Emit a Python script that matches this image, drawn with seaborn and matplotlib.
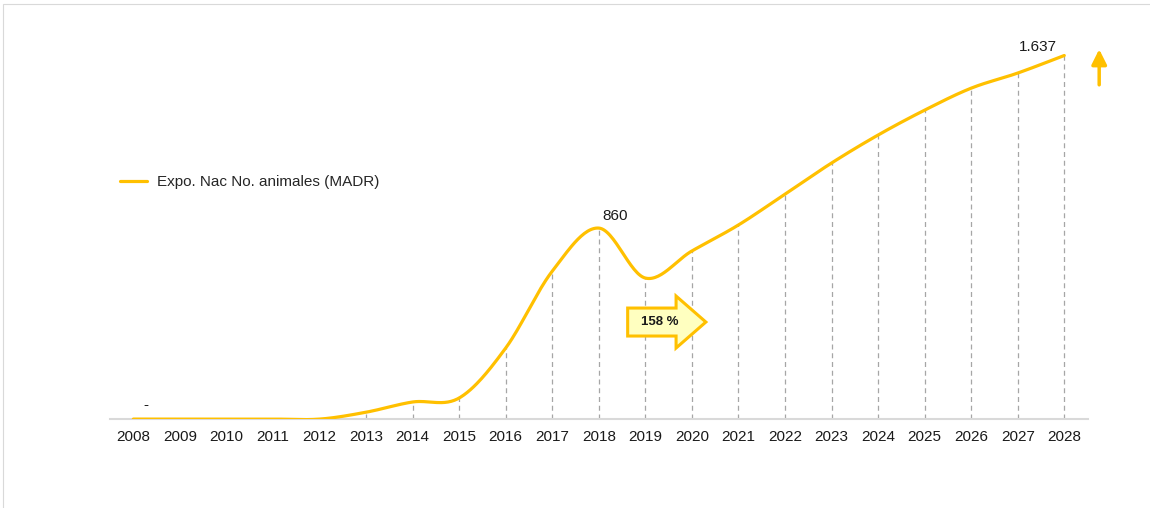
import numpy as np
import matplotlib
matplotlib.use("Agg")
import matplotlib.pyplot as plt
from matplotlib.patches import FancyArrow, Rectangle
import seaborn as sns

# Data
years = list(range(2008, 2029))
values = [0, 0, 0, 0, 0, 31, 77, 95, 320, 666, 860, 635, 757, 874,
          1013, 1153, 1279, 1391, 1490, 1558, 1637]
series_name = "Expo. Nac No. animales (MADR)"
point_labels = {2008: "-", 2018: "860", 2028: "1.637"}
growth_label = "158 %"

gold = "#FFC000"

sns.set_style("white")
plt.rcParams['font.family'] = ['Liberation Sans', 'DejaVu Sans']


def smooth(xs, ys, n=30):
    # Excel-like smoothed line (Catmull-Rom as cubic Bezier)
    xs = np.asarray(xs, float)
    ys = np.asarray(ys, float)
    px = np.concatenate([[xs[0]], xs, [xs[-1]]])
    py = np.concatenate([[ys[0]], ys, [ys[-1]]])
    t = np.linspace(0, 1, n)[:, None]
    outx, outy = [], []
    for i in range(1, len(px) - 2):
        p0 = np.array([px[i - 1], py[i - 1]])
        p1 = np.array([px[i], py[i]])
        p2 = np.array([px[i + 1], py[i + 1]])
        p3 = np.array([px[i + 2], py[i + 2]])
        c1 = p1 + (p2 - p0) / 6
        c2 = p2 - (p3 - p1) / 6
        b = ((1 - t) ** 3) * p1 + 3 * ((1 - t) ** 2) * t * c1 \
            + 3 * (1 - t) * t ** 2 * c2 + t ** 3 * p2
        outx.append(b[:, 0])
        outy.append(b[:, 1])
    return np.concatenate(outx), np.concatenate(outy)


fig = plt.figure(figsize=(11.5, 5.08), dpi=100)
ax = fig.add_axes([0.0957, 0.175, 0.850, 0.787])

sx, sy = smooth(years, values)
sns.lineplot(x=sx, y=sy, ax=ax, color=gold, lw=2.3, label=series_name,
             sort=False, zorder=3)

# dashed drop lines
ax.vlines(years, 0, values, colors="#A6A6A6", linestyles=(0, (4, 3)),
          lw=0.9, zorder=1)

ax.set_xlim(2007.5, 2028.5)
ax.set_ylim(0, 1800)
ax.set_xticks(years)
ax.set_xticklabels([str(y) for y in years], fontsize=11, color="#1a1a1a")
ax.set_yticks([])
ax.tick_params(axis='x', length=0, pad=8)
for s in ["top", "right", "left"]:
    ax.spines[s].set_visible(False)
ax.spines["bottom"].set_color("#D9D9D9")
ax.spines["bottom"].set_linewidth(1.5)

# point labels
offsets = {2008: (9, 5), 2018: (12, 4), 2028: (-19, 1)}
for yr, txt in point_labels.items():
    v = values[years.index(yr)]
    ax.annotate(txt, (yr, v), xytext=offsets[yr], textcoords="offset points",
                ha="center", va="bottom", fontsize=11, color="#1a1a1a")

# growth block arrow
arr = FancyArrow(2018.62, 437, 1.68, 0, width=126, head_width=234,
                 head_length=0.64, length_includes_head=True,
                 facecolor="#FFFFC0", edgecolor=gold, lw=2.2, zorder=4)
ax.add_patch(arr)
ax.text(2019.3, 437, growth_label, ha="center", va="center",
        fontsize=9.5, fontweight="bold", color="#1a1a1a", zorder=5)

# small up arrow on the right
ax.annotate("", xy=(2028.75, 1665), xytext=(2028.75, 1505),
            arrowprops=dict(arrowstyle="-|>,head_width=0.45,head_length=0.9",
                            color=gold, lw=2.5, shrinkA=0, shrinkB=0),
            annotation_clip=False)

leg = ax.legend(loc="center left", bbox_to_anchor=(-0.004, 0.5925), frameon=False,
                fontsize=11, handlelength=1.8, handletextpad=0.6)

# faint outer frame
fig.patches.append(Rectangle((0.003, -0.1), 1.2, 1.092, transform=fig.transFigure,
                             fill=False, edgecolor="#D9D9D9", lw=0.8))

fig.savefig("out.png", dpi=100)
